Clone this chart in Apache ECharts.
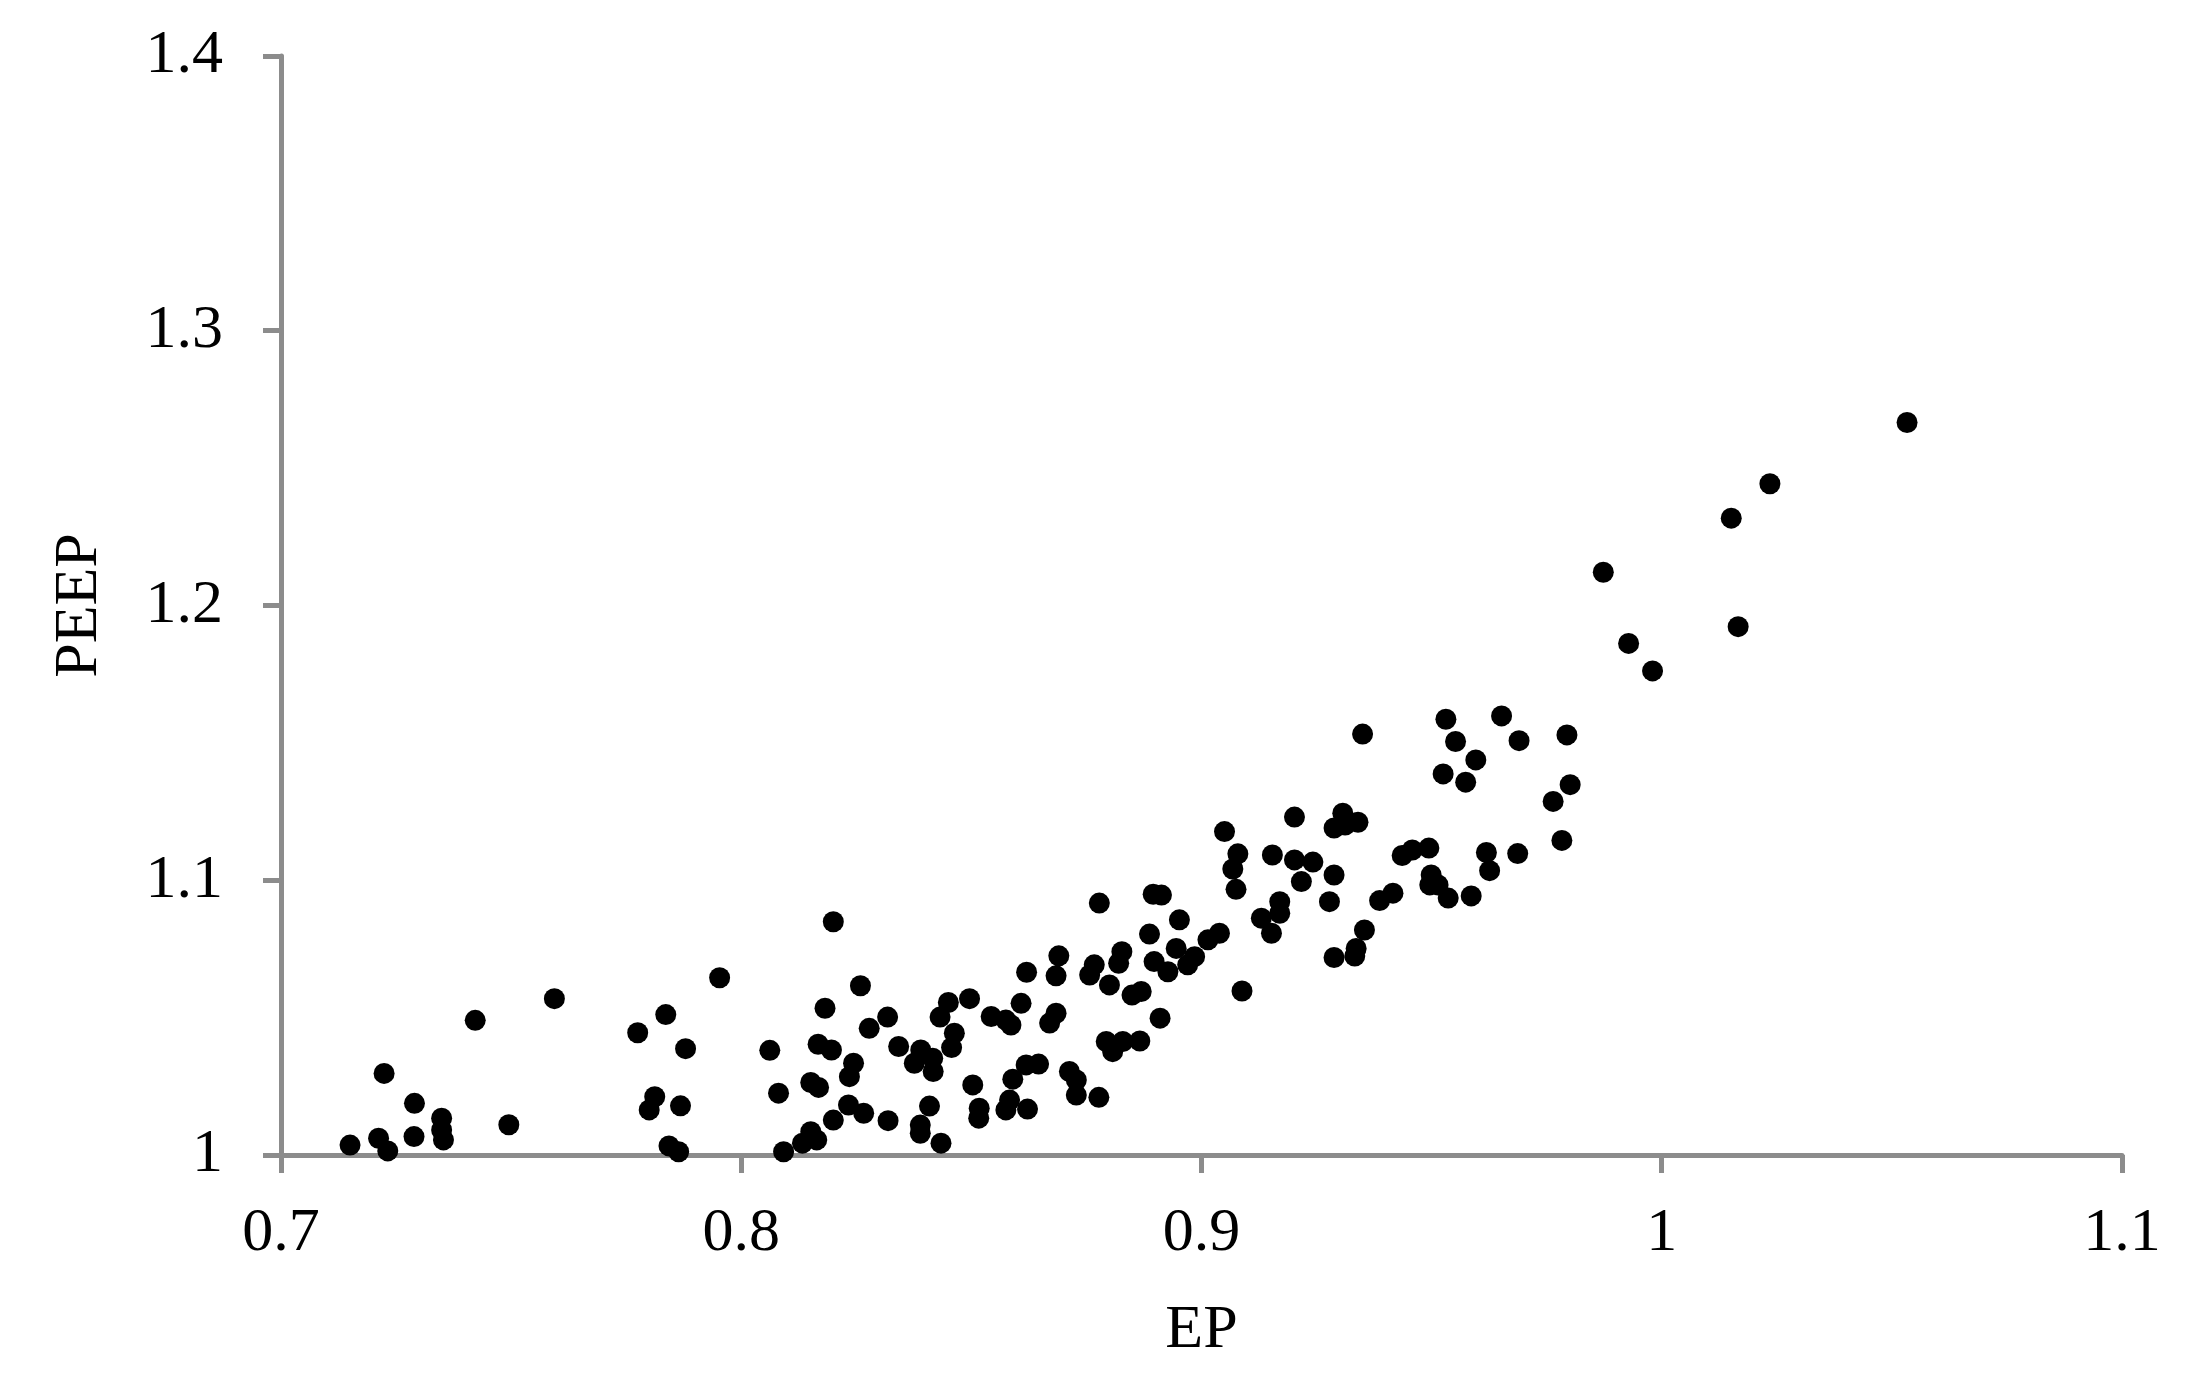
<!DOCTYPE html>
<html>
<head>
<meta charset="utf-8">
<script src="https://cdn.jsdelivr.net/npm/echarts@6/dist/echarts.min.js"></script>
<style>
html,body{margin:0;padding:0;background:#fff;}
#chart{width:2201px;height:1395px;}
</style>
</head>
<body>
<div id="chart"></div>
<script>
const epValues = [
0.715,0.7212,0.7232,0.7224,0.729,0.7289,0.7349,0.7349,0.7353,0.7422,
0.7495,0.7594,0.7775,0.7836,0.7879,0.7812,0.78,0.7868,0.7843,0.7864,
0.7953,0.82,0.8062,0.8081,0.8182,0.8259,0.8167,0.8196,0.8151,0.8168,
0.8244,0.8235,0.8278,0.8318,0.8342,0.8233,0.8266,0.82,0.8319,0.8151,
0.8164,0.8133,0.8092,0.8409,0.8389,0.8389,0.8434,0.839,0.8376,0.8416,
0.8417,0.8457,0.8463,0.845,0.8432,0.8496,0.8503,0.8517,0.8516,0.8575,
0.8583,0.8622,0.859,0.8619,0.8646,0.8543,0.8575,0.8586,0.8608,0.867,
0.8684,0.862,0.869,0.8684,0.8767,0.8757,0.88,0.8827,0.882,0.8887,
0.8897,0.8849,0.8869,0.8713,0.8728,0.8728,0.8777,0.8793,0.8829,0.8866,
0.8807,0.891,0.8778,0.8895,0.8913,0.8952,0.8927,0.8945,0.897,0.8985,
0.9014,0.9039,0.9088,0.905,0.9079,0.9068,0.9075,0.9154,0.9202,0.9242,
0.9217,0.917,0.917,0.913,0.9152,0.9288,0.9278,0.9202,0.9307,0.9288,
0.9312,0.934,0.935,0.9354,0.9336,0.9333,0.9288,0.9387,0.9416,0.9436,
0.9458,0.9494,0.9499,0.9496,0.9514,0.9536,0.9586,0.9619,0.9626,0.9687,
0.9531,0.9552,0.9596,0.9525,0.9574,0.9652,0.969,0.9794,0.9801,0.9764,
0.9783,0.9873,0.9928,0.998,1.0151,1.0166,1.0235,1.0533
];
const peepValues = [
1.0036,1.0061,1.0015,1.0297,1.0188,1.0067,1.0134,1.0091,1.0055,1.049,
1.011,1.0569,1.0445,1.0511,1.0387,1.0212,1.0164,1.0179,1.0033,1.0012,
1.0645,1.0849,1.0381,1.0225,1.0534,1.0616,1.0403,1.0382,1.0264,1.0246,
1.0334,1.0285,1.0461,1.0502,1.0395,1.0182,1.0152,1.0127,1.0125,1.0085,
1.0055,1.0043,1.0012,1.0178,1.0109,1.0079,1.0043,1.0382,1.0334,1.0352,
1.0304,1.0391,1.0443,1.0555,1.0502,1.0569,1.0255,1.017,1.0134,1.0164,
1.02,1.0167,1.0276,1.0328,1.0331,1.0504,1.0491,1.0473,1.0552,1.048,
1.0516,1.0665,1.0725,1.0652,1.0692,1.0655,1.0619,1.074,1.0698,1.0804,
1.0704,1.0582,1.0595,1.0304,1.0273,1.0218,1.021,1.0413,1.0413,1.0415,
1.0376,1.0498,1.0917,1.0949,1.0946,1.0856,1.0667,1.0752,1.0692,1.0722,
1.0783,1.0807,1.0597,1.1177,1.1096,1.1041,1.0967,1.1092,1.1074,1.1066,
1.0995,1.0922,1.088,1.0862,1.0807,1.1019,1.0922,1.123,1.1244,1.119,
1.1201,1.1211,1.1532,1.0819,1.0752,1.0724,1.0719,1.0926,1.0953,1.109,
1.111,1.1117,1.1019,1.0983,1.0983,1.0935,1.0943,1.1101,1.1035,1.1097,
1.1586,1.1505,1.1438,1.1387,1.1357,1.1598,1.1508,1.1529,1.1348,1.1287,
1.1145,1.2121,1.1862,1.1762,1.2318,1.1923,1.2443,1.2666
];
const xAxisName = 'EP';
const yAxisName = 'PEEP';
const xTicks = [0.7, 0.8, 0.9, 1, 1.1];
const yTicks = [1, 1.1, 1.2, 1.3, 1.4];

const points = epValues.map((x, i) => [x, peepValues[i]]);
const font = '"Liberation Serif", "Times New Roman", serif';
const axisGrey = '#8c8c8c';

const chart = echarts.init(document.getElementById('chart'), null, {renderer: 'canvas'});
chart.setOption({
  animation: false,
  backgroundColor: '#ffffff',
  grid: {left: 281, right: 79, top: 56, bottom: 240, containLabel: false},
  xAxis: {
    type: 'value',
    min: xTicks[0], max: xTicks[xTicks.length - 1], interval: 0.1,
    name: xAxisName, nameLocation: 'middle', nameGap: 145,
    nameTextStyle: {fontFamily: font, fontSize: 62, color: '#000'},
    axisLine: {show: true, onZero: false, lineStyle: {color: axisGrey, width: 5}},
    axisTick: {show: true, inside: false, length: 18, lineStyle: {color: axisGrey, width: 5}},
    axisLabel: {fontFamily: font, fontSize: 62, color: '#000', margin: 48,
      formatter: v => String(Math.round(v * 10) / 10)},
    splitLine: {show: false}
  },
  yAxis: {
    type: 'value',
    min: yTicks[0], max: yTicks[yTicks.length - 1], interval: 0.1,
    name: yAxisName, nameLocation: 'middle', nameGap: 170,
    nameTextStyle: {fontFamily: font, fontSize: 62, color: '#000'},
    axisLine: {show: true, onZero: false, lineStyle: {color: axisGrey, width: 5}},
    axisTick: {show: true, inside: false, length: 18, lineStyle: {color: axisGrey, width: 5}},
    axisLabel: {fontFamily: font, fontSize: 62, color: '#000', margin: 58,
      formatter: v => String(Math.round(v * 10) / 10)},
    splitLine: {show: false}
  },
  series: [{
    type: 'scatter',
    data: points,
    symbol: 'circle',
    symbolSize: 21,
    itemStyle: {color: '#000', opacity: 1},
    emphasis: {disabled: true}
  }]
});
</script>
</body>
</html>
